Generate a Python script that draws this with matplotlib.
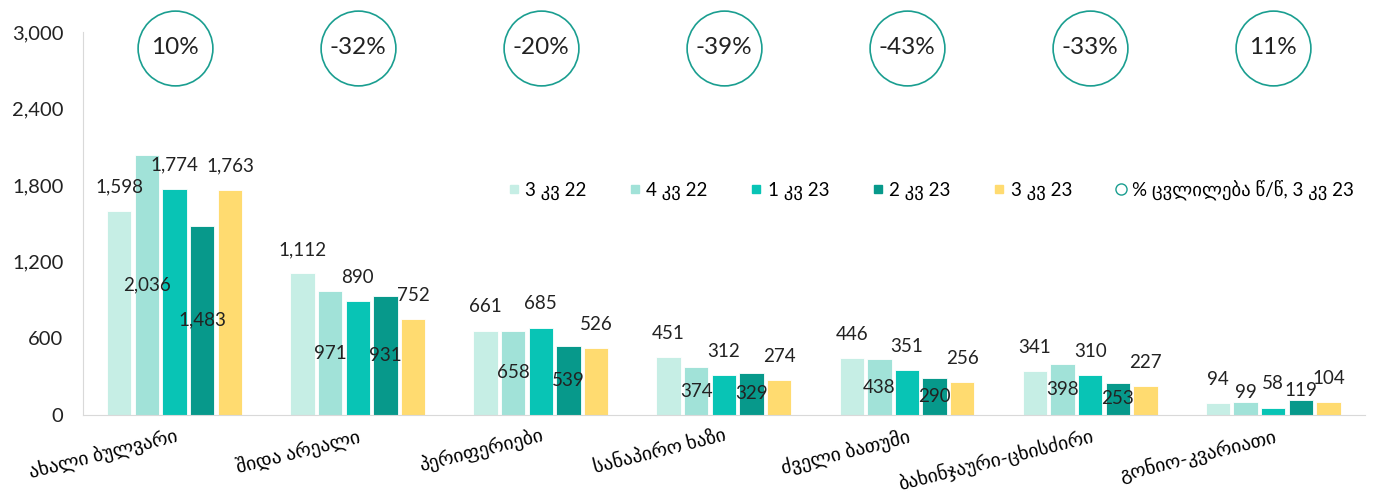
import numpy as np
import matplotlib.pyplot as plt
from matplotlib.lines import Line2D

plt.rcParams['font.family'] = ['Lato', 'DejaVu Sans']

areas = ['ახალი ბულვარი', 'შიდა არეალი', 'პერიფერიები', 'სანაპირო ხაზი',
         'ძველი ბათუმი', 'ბახინჯაური-ცხისძირი', 'გონიო-კვარიათი']
quarters = ['3 კვ 22', '4 კვ 22', '1 კვ 23', '2 კვ 23', '3 კვ 23']
q3_22 = [1598, 1112, 661, 451, 446, 341, 94]
q4_22 = [2036, 971, 658, 374, 438, 398, 99]
q1_23 = [1774, 890, 685, 312, 351, 310, 58]
q2_23 = [1483, 931, 539, 329, 290, 253, 119]
q3_23 = [1763, 752, 526, 274, 256, 227, 104]
yoy = ['10%', '-32%', '-20%', '-39%', '-43%', '-33%', '11%']

series = [q3_22, q4_22, q1_23, q2_23, q3_23]
colors = ['#c6eee5', '#a1e2d8', '#08c4b5', '#07998b', '#ffdb70']
teal = '#1a9e90'

fig = plt.figure(figsize=(13.73, 4.92), dpi=100)
ax = fig.add_axes([0.0605, 0.1565, 0.9335, 0.7785])

x = np.arange(len(areas))
slot = 0.151
bw = 0.133
for i, (vals, c) in enumerate(zip(series, colors)):
    pos = x + (i - 2) * slot
    ax.bar(pos, vals, width=bw, color=c, edgecolor='white', linewidth=0.6, zorder=2)
    for p, v in zip(pos, vals):
        txt = f'{v:,}'
        if i in (1, 3):
            if v > 200:
                ax.text(p, v / 2, txt, ha='center', va='center', fontsize=13.5,
                        color='#222222', zorder=3)
            else:
                ax.annotate(txt, (p, v), xytext=(0, 7), textcoords='offset points',
                            ha='center', va='center', fontsize=13.5, color='#222222', zorder=3)
        else:
            ax.annotate(txt, (p, v), xytext=(0, 17), textcoords='offset points',
                        ha='center', va='center', fontsize=13.5, color='#222222', zorder=3)

# % change circles
circ_y = np.full(len(areas), 2875)
ax.scatter(x, circ_y, s=2900, facecolors='white', edgecolors=teal, linewidths=1.2,
           clip_on=False, zorder=4)
for xi, yi, t in zip(x, circ_y, yoy):
    ax.text(xi, yi, t, ha='center', va='center', fontsize=17.5, color='#222222', zorder=5)

ax.set_xlim(-0.5, len(areas) - 0.5)
ax.set_ylim(0, 3000)
ax.set_yticks(np.arange(0, 3001, 600))
ax.set_yticklabels([f'{v:,}' for v in range(0, 3001, 600)], fontsize=14.5, color='#222222')
ax.set_xticks(x)
ax.set_xticklabels(areas, rotation=14, ha='right', rotation_mode='anchor', fontsize=14)
ax.tick_params(axis='both', length=0)
ax.tick_params(axis='y', pad=14)
ax.tick_params(axis='x', pad=8)
for s in ['top', 'right']:
    ax.spines[s].set_visible(False)
for s in ['left', 'bottom']:
    ax.spines[s].set_color('#d9d9d9')

handles = [Line2D([], [], marker='s', linestyle='none', markersize=6,
                  markerfacecolor=c, markeredgecolor=c) for c in colors]
handles.append(Line2D([], [], marker='o', linestyle='none', markersize=8,
                      markerfacecolor='white', markeredgecolor=teal))
labels = quarters + ['% ცვლილება წ/წ, 3 კვ 23']
fig.legend(handles, labels, loc='center', bbox_to_anchor=(930 / 1373, 1 - 190 / 492),
           ncol=6, frameon=False, fontsize=13.5, handletextpad=0.2, columnspacing=2.2,
           handlelength=0.8)

fig.savefig('out.png', dpi=100)
